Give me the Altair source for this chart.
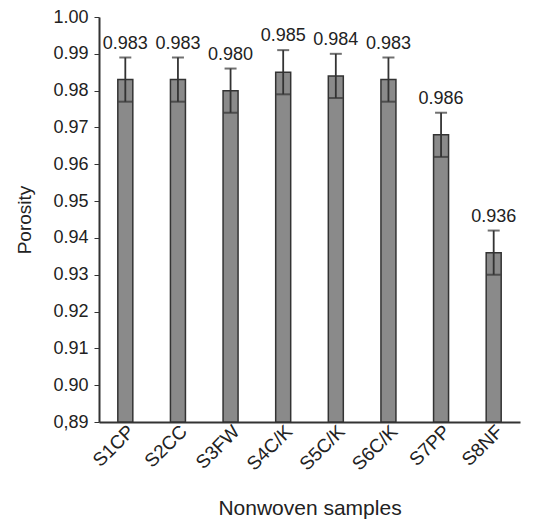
import pandas as pd
import altair as alt

# ---------- data ----------
samples = ["S1CP", "S2CC", "S3FW", "S4C/K", "S5C/K", "S6C/K", "S7PP", "S8NF"]
porosity = [0.983, 0.983, 0.980, 0.985, 0.984, 0.983, 0.968, 0.936]
error = [0.006, 0.006, 0.006, 0.006, 0.006, 0.006, 0.006, 0.006]
# labels as printed on the original figure
labels = ["0.983", "0.983", "0.980", "0.985", "0.984", "0.983", "0.986", "0.936"]
y_ticks = [0.89, 0.90, 0.91, 0.92, 0.93, 0.94, 0.95, 0.96, 0.97, 0.98, 0.99, 1.00]

df = pd.DataFrame({"sample": samples, "porosity": porosity, "err": error, "label": labels})
df["lo"] = df["porosity"] - df["err"]
df["hi"] = df["porosity"] + df["err"]

FONT = "Liberation Sans"
DARK = "#333333"

x = alt.X("sample:N", sort=samples, title="Nonwoven samples",
          scale=alt.Scale(paddingInner=0.0, paddingOuter=0.0),
          axis=alt.Axis(labelAngle=-45, labelAlign="right", labelBaseline="middle",
                        ticks=False, labelPadding=6, labelFontSize=19, labelOverlap=False,
                        labelOffset=6, titleFontSize=21, titlePadding=24))

y_scale = alt.Scale(domain=[0.89, 1.00], zero=False, nice=False)
y_axis = alt.Axis(values=y_ticks, tickSize=5, labelPadding=6, labelFontSize=18,
                  labelOverlap=False, titleFontSize=19, titlePadding=18, grid=False,
                  labelExpr="datum.value < 0.895 ? '0,89' : format(datum.value, '.2f')")


def y_enc(field):
    return alt.Y(f"{field}:Q", scale=y_scale, axis=y_axis, title="Porosity")


base = alt.Chart(df).encode(x=x)

bars = base.mark_bar(size=15, color="#8a8a8a", stroke=DARK, strokeWidth=1.5).encode(
    y=y_enc("porosity"),
    y2=alt.datum(0.89),
)

rules = base.mark_rule(color=DARK, strokeWidth=1.8).encode(y=y_enc("lo"), y2="hi:Q")

cap_hi = base.mark_tick(color=DARK, size=12, thickness=2, orient="horizontal").encode(
    y=y_enc("hi")
)
cap_lo = base.mark_tick(color=DARK, size=14, thickness=2, orient="horizontal").encode(
    y=y_enc("lo")
)

text = base.mark_text(dy=-14, fontSize=18, font=FONT, color="#222222").encode(
    y=y_enc("hi"), text="label:N"
)

chart = (
    alt.layer(bars, rules, cap_hi, cap_lo, text)
    .properties(width=421, height=405, autosize="none",
                padding={"left": 91, "top": 9, "right": 12, "bottom": 102})
    .configure_view(stroke=None)
    .configure_axis(domainColor=DARK, tickColor=DARK, labelColor="#222222",
                    titleColor="#222222", labelFont=FONT, titleFont=FONT,
                    titleFontWeight="normal", domainWidth=2)
)

chart.save("out.html", embed_options={"renderer": "svg", "actions": False})
